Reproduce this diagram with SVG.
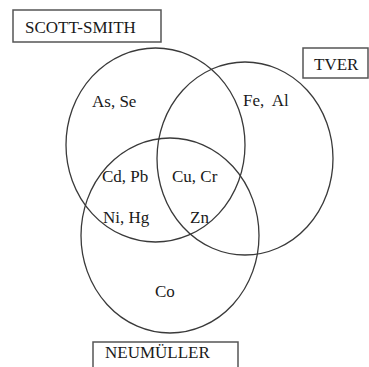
<svg xmlns="http://www.w3.org/2000/svg" width="369" height="367" viewBox="0 0 369 367">
<style>
.set{fill:none;stroke:#3a3a3a;stroke-width:1.3}
.box{fill:#fff;stroke:#555;stroke-width:1.5}
text{font-family:"Liberation Serif","Times New Roman",serif;font-size:17px;fill:#1a1a1a;white-space:pre}
</style>
<rect width="369" height="367" fill="#fff"/>
<g id="sets">
<ellipse id="set-scott-smith" class="set" cx="155.5" cy="145" rx="89.5" ry="97"/>
<ellipse id="set-tver" class="set" cx="245" cy="158.5" rx="88" ry="96.5"/>
<ellipse id="set-neumuller" class="set" cx="170" cy="235.5" rx="89" ry="97.5"/>
</g>
<g id="scott-smith"><rect class="box" x="13" y="10" width="148" height="32"/><text x="25" y="33">SCOTT-SMITH</text></g>
<g id="tver"><rect class="box" x="303" y="48" width="65" height="30"/><text x="314" y="70">TVER</text></g>
<g id="neumuller"><rect class="box" x="93" y="342" width="145" height="30"/><text x="105" y="358">NEUMÜLLER</text></g>
<g id="labels">
<text x="92" y="107">As, Se</text>
<text x="243" y="106">Fe,  Al</text>
<text x="102" y="182">Cd, Pb</text>
<text x="172" y="182">Cu, Cr</text>
<text x="103" y="223">Ni, Hg</text>
<text x="190" y="223">Zn</text>
<text x="155" y="297">Co</text>
</g>
</svg>
